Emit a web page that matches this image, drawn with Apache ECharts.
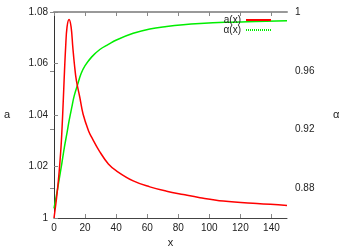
<!DOCTYPE html>
<html>
<head>
<meta charset="utf-8">
<script src="https://cdn.jsdelivr.net/npm/echarts@6/dist/echarts.min.js"></script>
<style>
html,body{margin:0;padding:0;background:#fff;}
#c{width:357px;height:250px;}
</style>
</head>
<body>
<div id="c"></div>
<script>
// a(x) curve samples
var aX = [0, 1.4, 2.8, 4.5, 5.6, 6.5, 7.5, 8.4, 9.7, 11, 12.1, 13.1, 14.4, 16.6, 18.7, 22.2, 24.3, 29.5, 35, 40.2, 51, 61.7, 72.5, 83.2, 94, 109, 130.6, 150];
var aY = [1.0, 1.0065, 1.0144, 1.0274, 1.0404, 1.0534, 1.0664, 1.0742, 1.0771, 1.0742, 1.0664, 1.0599, 1.0534, 1.0469, 1.0404, 1.0339, 1.0313, 1.0257, 1.021, 1.0183, 1.0144, 1.0121, 1.0104, 1.0091, 1.0079, 1.0066, 1.0056, 1.0049];
// alpha(x) curve samples
var alX = [0, 1.5, 3.2, 5, 6.7, 8.4, 9.7, 11.4, 13, 15.3, 17.4, 20, 24.3, 29.5, 35, 40.2, 51, 61.7, 72.5, 83.2, 94, 110, 130, 150];
var alY = [0.8665, 0.875, 0.8854, 0.8968, 0.9082, 0.918, 0.926, 0.935, 0.943, 0.951, 0.958, 0.9635, 0.9695, 0.9745, 0.978, 0.981, 0.9855, 0.9885, 0.9902, 0.9914, 0.9922, 0.993, 0.9936, 0.9941];
// tick labels
var xTicks = [0, 20, 40, 60, 80, 100, 120, 140];
var aTicks = [1, 1.02, 1.04, 1.06, 1.08];
var alTicks = [0.88, 0.92, 0.96, 1];
var seriesNames = ['a(x)', 'α(x)'];
var axisNames = {x: 'x', left: 'a', right: 'α'};

function pairs(xs, ys) { return xs.map(function (x, i) { return [x, ys[i]]; }); }
function fmt(v) { return Math.abs(v - 1) < 1e-9 ? '1' : v.toFixed(2); }

var FONT = 'Liberation Sans, Arial, sans-serif';
var lbl = {color: '#222', fontSize: 10, fontFamily: FONT};
var dotPath = 'path://';
for (var i = 0; i < 13; i++) { dotPath += 'M' + (i * 2) + ',0h1v2h-1z'; }

var chart = echarts.init(document.getElementById('c'), null, {renderer: 'canvas'});
chart.setOption({
  animation: false,
  backgroundColor: '#fff',
  grid: {left: 54, right: 70, top: 12, bottom: 32, show: false, containLabel: false, outerBoundsMode: 'none'},
  legend: {
    orient: 'vertical', right: 81, top: 10, align: 'right',
    itemWidth: 25, itemHeight: 2, itemGap: 0, symbolKeepAspect: false,
    textStyle: {color: '#222', fontSize: 10, fontFamily: FONT, padding: [0, 0, 0, 0], lineHeight: 10},
    data: [
      {name: seriesNames[0], icon: 'rect'},
      {name: seriesNames[1], icon: dotPath}
    ]
  },
  xAxis: [{
    type: 'value', min: 0, max: 150, position: 'bottom',
    name: axisNames.x, nameLocation: 'middle', nameGap: 19,
    nameTextStyle: {color: '#222', fontSize: 11, fontFamily: FONT},
    axisLine: {lineStyle: {color: '#444', width: 1}},
    axisTick: {inside: true, length: 4, customValues: xTicks, lineStyle: {color: '#888'}},
    axisLabel: Object.assign({customValues: xTicks, margin: 5}, lbl),
    splitLine: {show: false}
  }, {
    type: 'value', min: 0, max: 150, position: 'top',
    axisLine: {lineStyle: {color: '#999', width: 2}},
    axisTick: {inside: true, length: 4, customValues: xTicks, lineStyle: {color: '#888'}},
    axisLabel: {show: false},
    splitLine: {show: false}
  }],
  yAxis: [{
    type: 'value', min: 1, max: 1.08, interval: 0.02, position: 'left',
    name: axisNames.left, nameLocation: 'middle', nameRotate: 0, nameGap: 44,
    nameTextStyle: {color: '#222', fontSize: 11, fontFamily: FONT},
    axisLine: {show: true, lineStyle: {color: '#333', width: 1}},
    axisTick: {show: true, inside: true, length: 4, lineStyle: {color: '#888'}},
    axisLabel: Object.assign({formatter: fmt, margin: 6}, lbl),
    splitLine: {show: false}
  }, {
    type: 'value', min: 0.86, max: 1, position: 'right',
    name: axisNames.right, nameLocation: 'middle', nameRotate: 0, nameGap: 46,
    nameTextStyle: {color: '#222', fontSize: 11, fontFamily: FONT},
    axisLine: {show: true, lineStyle: {color: '#333', width: 1}},
    axisTick: {show: true, inside: true, length: 4, customValues: alTicks, lineStyle: {color: '#888'}},
    axisLabel: Object.assign({customValues: alTicks, formatter: fmt, margin: 8}, lbl),
    splitLine: {show: false}
  }],
  series: [{
    name: seriesNames[0], type: 'line', xAxisIndex: 0, yAxisIndex: 0,
    data: pairs(aX, aY), smooth: 0.4, symbol: 'none',
    lineStyle: {color: '#ff0000', width: 1.5}, itemStyle: {color: '#ff0000'}, z: 3
  }, {
    name: seriesNames[1], type: 'line', xAxisIndex: 0, yAxisIndex: 1,
    data: pairs(alX, alY), smooth: 0.4, symbol: 'none',
    lineStyle: {color: '#00ee00', width: 1.5}, itemStyle: {color: '#00ee00'}, z: 2
  }]
});
</script>
</body>
</html>
